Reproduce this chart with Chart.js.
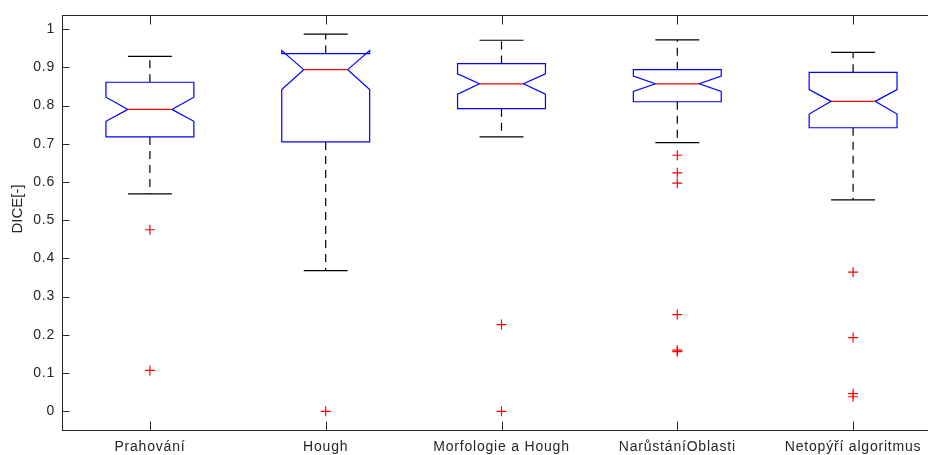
<!DOCTYPE html>
<html>
<head>
<meta charset="utf-8">
<script src="https://cdn.jsdelivr.net/npm/chart.js@4.4.1/dist/chart.umd.min.js"></script>
<style>
  html, body { margin: 0; padding: 0; background: #fff; overflow: hidden; width: 928px; height: 455px; }
  #wrap { width: 960px; height: 455px; }
</style>
</head>
<body>
<div id="wrap"><canvas id="c" width="960" height="455"></canvas></div>
<script>
// DICE score per segmentation method: notched box plot statistics
const methods = ['Prahování', 'Hough', 'Morfologie a Hough', 'NarůstáníOblasti', 'Netopýří algoritmus'];
const upperWhisker  = [0.929, 0.987, 0.971, 0.972, 0.939];
const upperQuartile = [0.861, 0.936, 0.910, 0.894, 0.887];
const notchHigh     = [0.822, 0.944, 0.883, 0.877, 0.842];
const medians       = [0.790, 0.894, 0.857, 0.857, 0.811];
const notchLow      = [0.759, 0.842, 0.830, 0.837, 0.778];
const lowerQuartile = [0.718, 0.705, 0.792, 0.810, 0.742];
const lowerWhisker  = [0.569, 0.368, 0.718, 0.703, 0.553];
const outliers = [
  [0.475, 0.107],
  [0],
  [0.227, 0],
  [0.670, 0.624, 0.597, 0.253, 0.160, 0.156],
  [0.364, 0.193, 0.046, 0.038]
];
const yTicks = [0, 0.1, 0.2, 0.3, 0.4, 0.5, 0.6, 0.7, 0.8, 0.9, 1];
const yLimits = [-0.049, 1.036];
const yTitle = 'DICE[-]';

const AXIS_COLOR = '#262626';
const FONT = '"Liberation Sans", Arial, Helvetica, sans-serif';

// Slightly wider tracking for the tick labels
const tickTracking = {
  id: 'tickTracking',
  beforeDraw(chart) { chart.ctx.letterSpacing = '0.8px'; },
  afterDraw(chart) { chart.ctx.letterSpacing = '0px'; }
};

// Boxes, notches, medians, whiskers and caps, placed through the chart scales
const notchedBoxes = {
  id: 'notchedBoxes',
  beforeDatasetsDraw(chart) {
    const { ctx, scales: { x, y } } = chart;
    const unit = x.getPixelForValue(1) - x.getPixelForValue(0);
    const half = 0.25 * unit;
    const inset = 0.125 * unit;
    const py = v => y.getPixelForValue(v);
    ctx.save();
    ctx.lineWidth = 1.2;
    methods.forEach((_, i) => {
      const cx = x.getPixelForValue(i + 1);
      const L = cx - half, R = cx + half;

      // whiskers (dashed)
      ctx.strokeStyle = '#000000';
      ctx.setLineDash([8, 6]);
      ctx.beginPath();
      ctx.moveTo(cx, py(upperQuartile[i]));
      ctx.lineTo(cx, py(upperWhisker[i]));
      ctx.stroke();
      ctx.beginPath();
      ctx.moveTo(cx, py(lowerQuartile[i]));
      ctx.lineTo(cx, py(lowerWhisker[i]));
      ctx.stroke();
      ctx.setLineDash([]);

      // whisker caps
      ctx.beginPath();
      ctx.moveTo(cx - inset, py(upperWhisker[i]));
      ctx.lineTo(cx + inset, py(upperWhisker[i]));
      ctx.moveTo(cx - inset, py(lowerWhisker[i]));
      ctx.lineTo(cx + inset, py(lowerWhisker[i]));
      ctx.stroke();

      // notched box outline
      ctx.strokeStyle = '#0000ff';
      ctx.beginPath();
      ctx.moveTo(L, py(lowerQuartile[i]));
      ctx.lineTo(L, py(notchLow[i]));
      ctx.lineTo(L + inset, py(medians[i]));
      ctx.lineTo(L, py(notchHigh[i]));
      ctx.lineTo(L, py(upperQuartile[i]));
      ctx.lineTo(R, py(upperQuartile[i]));
      ctx.lineTo(R, py(notchHigh[i]));
      ctx.lineTo(R - inset, py(medians[i]));
      ctx.lineTo(R, py(notchLow[i]));
      ctx.lineTo(R, py(lowerQuartile[i]));
      ctx.closePath();
      ctx.stroke();

      // median
      ctx.strokeStyle = '#ff0000';
      ctx.beginPath();
      ctx.moveTo(L + inset, py(medians[i]));
      ctx.lineTo(R - inset, py(medians[i]));
      ctx.stroke();
    });
    ctx.restore();
  }
};

// Axes box with inward tick marks on all four sides, plus the y title
const axesFrame = {
  id: 'axesFrame',
  afterDraw(chart) {
    const { ctx, chartArea: a, scales: { x, y } } = chart;
    ctx.save();
    ctx.strokeStyle = AXIS_COLOR;
    ctx.lineWidth = 1;
    const L = Math.round(a.left) + 0.5, R = Math.round(a.right) + 0.5;
    const T = Math.round(a.top) + 0.5, B = Math.round(a.bottom) + 0.5;
    ctx.strokeRect(L, T, R - L, B - T);
    ctx.beginPath();
    y.ticks.forEach(t => {
      const p = Math.round(y.getPixelForValue(t.value)) + 0.5;
      ctx.moveTo(L, p); ctx.lineTo(L + 7, p);
      ctx.moveTo(R, p); ctx.lineTo(R - 7, p);
    });
    x.ticks.forEach(t => {
      const p = Math.round(x.getPixelForValue(t.value)) + 0.5;
      ctx.moveTo(p, B); ctx.lineTo(p, B - 9);
      ctx.moveTo(p, T); ctx.lineTo(p, T + 9);
    });
    ctx.stroke();

    ctx.letterSpacing = '0px';
    ctx.fillStyle = AXIS_COLOR;
    ctx.font = '15px ' + FONT;
    ctx.textAlign = 'center';
    ctx.textBaseline = 'middle';
    ctx.translate(18, 209);
    ctx.rotate(-Math.PI / 2);
    ctx.fillText(yTitle, 0, 0);
    ctx.restore();
  }
};

new Chart(document.getElementById('c'), {
  type: 'scatter',
  data: {
    datasets: [{
      label: 'outliers',
      data: outliers.flatMap((vals, i) => vals.map(v => ({ x: i + 1, y: v }))),
      pointStyle: 'cross',
      pointRadius: 5,
      pointHoverRadius: 5,
      pointBorderColor: '#ff0000',
      pointBackgroundColor: '#ff0000',
      pointBorderWidth: 1.2,
      showLine: false
    }]
  },
  options: {
    responsive: false,
    animation: false,
    events: [],
    layout: { padding: { top: 14, right: 19, left: 0, bottom: 0 } },
    plugins: { legend: { display: false }, tooltip: { enabled: false } },
    scales: {
      x: {
        type: 'linear',
        min: 0.5,
        max: 5.5,
        grid: { display: false, drawTicks: false },
        border: { display: false },
        afterBuildTicks: s => { s.ticks = methods.map((_, i) => ({ value: i + 1 })); },
        afterFit: s => { s.height = 25; },
        ticks: {
          callback: v => methods[Math.round(v) - 1] ?? '',
          autoSkip: false,
          maxRotation: 0,
          padding: 9,
          color: AXIS_COLOR,
          font: { family: FONT, size: 14 }
        }
      },
      y: {
        type: 'linear',
        min: yLimits[0],
        max: yLimits[1],
        grid: { display: false, drawTicks: false },
        border: { display: false },
        afterBuildTicks: s => { s.ticks = yTicks.map(v => ({ value: v })); },
        afterFit: s => { s.width = 62; },
        ticks: {
          callback: v => String(Math.round(v * 10) / 10),
          padding: 7,
          color: AXIS_COLOR,
          font: { family: FONT, size: 14 }
        }
      }
    }
  },
  plugins: [tickTracking, notchedBoxes, axesFrame]
});
</script>
</body>
</html>
